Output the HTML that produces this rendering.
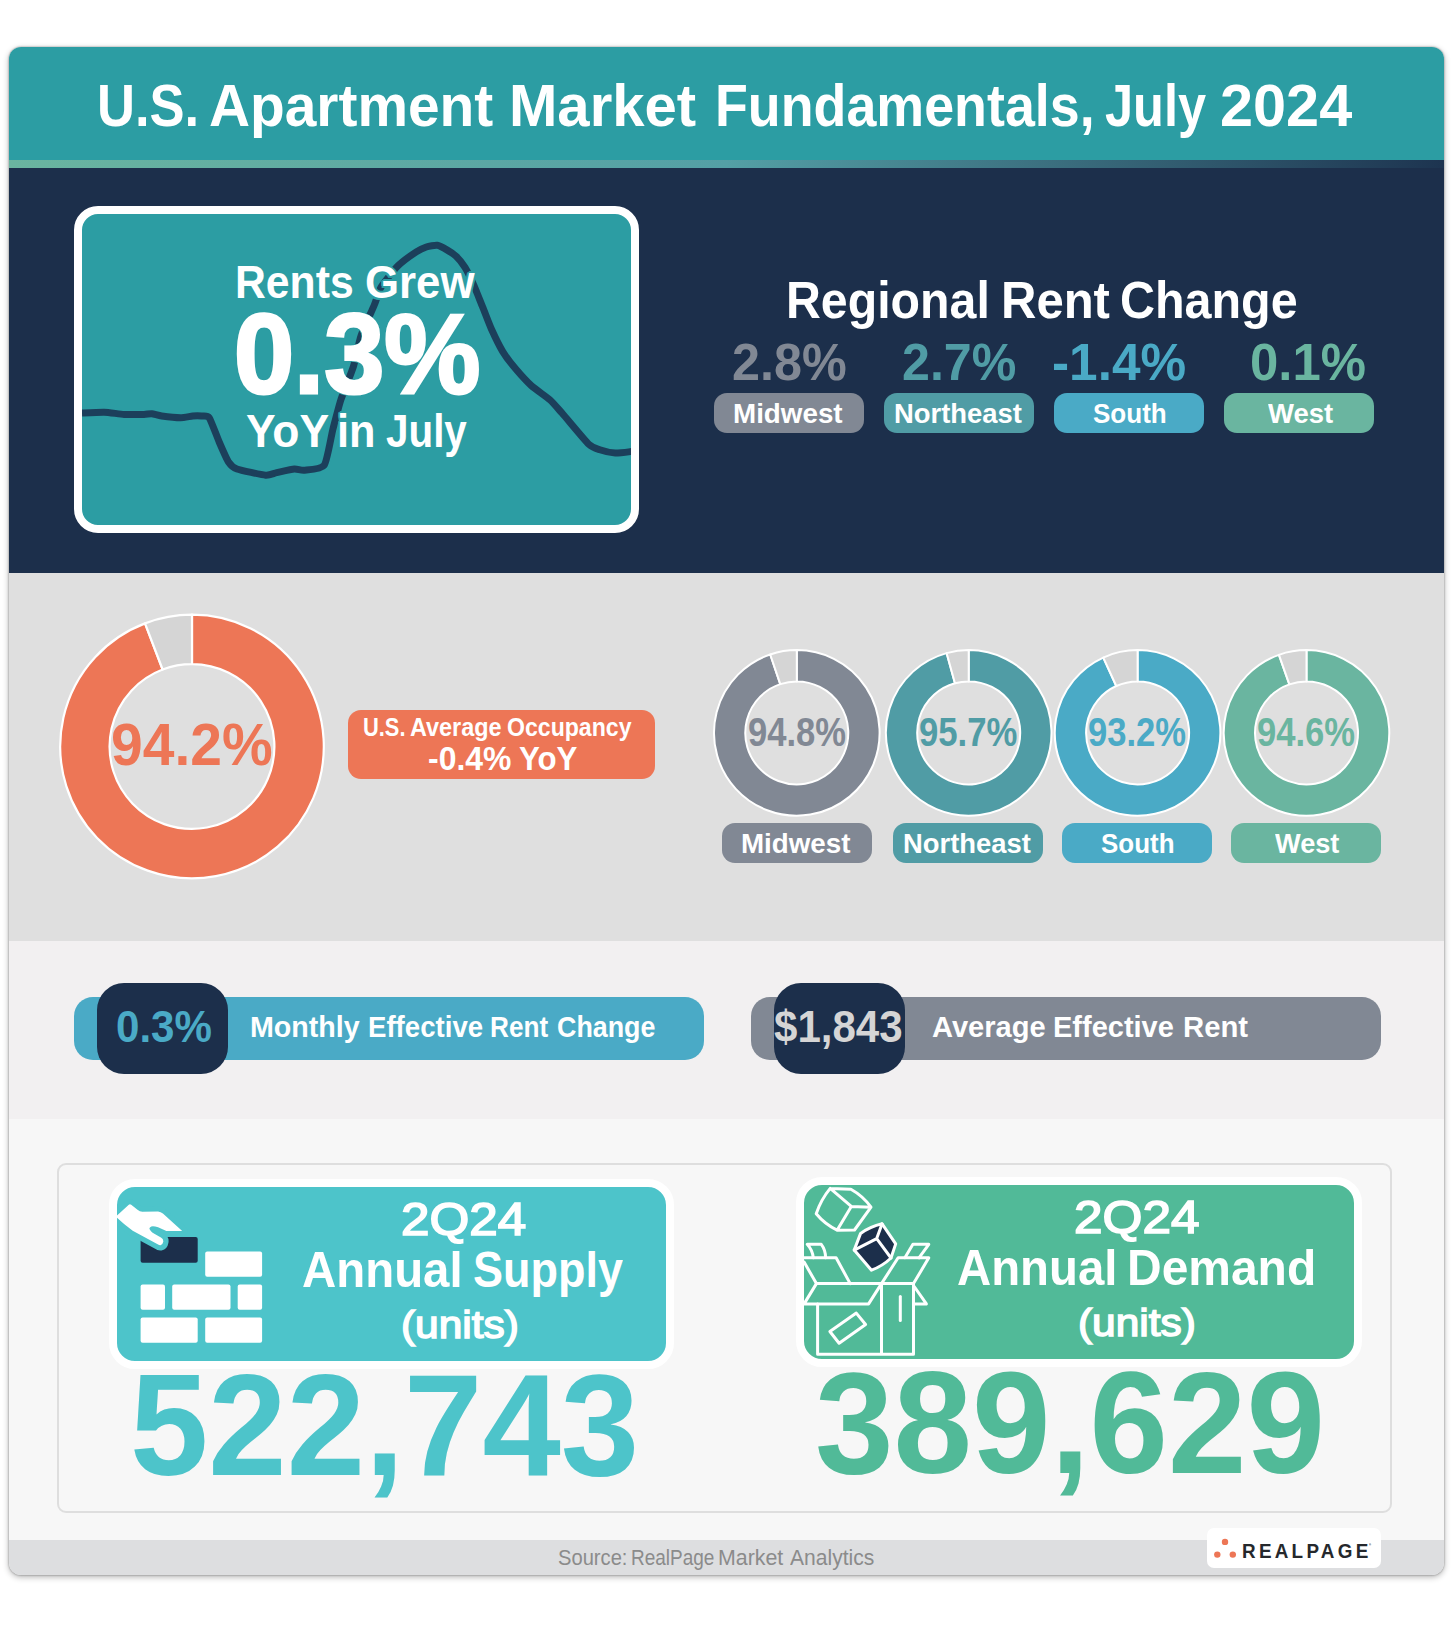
<!DOCTYPE html>
<html lang="en"><head><meta charset="utf-8"><title>U.S. Apartment Market Fundamentals, July 2024</title>
<style>
html,body{margin:0;padding:0;background:#fff}
body{width:1455px;height:1628px;position:relative;overflow:hidden;font-family:"Liberation Sans", Arial, sans-serif;font-weight:700}
.abs,.t,.pill{position:absolute}
.t{line-height:1;white-space:pre;transform-origin:0 0;margin:0;padding:0;letter-spacing:0}
.card{position:absolute;left:9px;top:47px;width:1435px;height:1528px;border-radius:12px;overflow:hidden;background:#f7f7f7;box-shadow:0 0 2px rgba(0,0,0,.45),0 2px 6px rgba(0,0,0,.3)}
.g{margin:0;padding:0;height:0;font:inherit}
.pill{width:150px;height:40px;border-radius:13px}
svg{position:absolute;left:0;top:0;overflow:visible}
</style></head><body>
<div class="card">
  <div class="abs" style="left:0;top:0;width:1435px;height:113px;background:#2c9da3"></div>
  <div class="abs" style="left:0;top:113px;width:1435px;height:8px;background:linear-gradient(90deg,#6ab5a0 0%,#54a0a6 50%,#1d3450 100%)"></div>
  <div class="abs" style="left:0;top:121px;width:1435px;height:405px;background:#1c2f4b"></div>
  <div class="abs" style="left:0;top:526px;width:1435px;height:368px;background:#dfdfdf"></div>
  <div class="abs" style="left:0;top:894px;width:1435px;height:178px;background:#f2f0f1"></div>
  <div class="abs" style="left:0;top:1072px;width:1435px;height:421px;background:#f7f7f7"></div>
  <div class="abs" style="left:0;top:1493px;width:1435px;height:35px;background:#dddee0"></div>
</div>

<!-- header -->
<h1 class="g"><span class="t" style="left:97.16px;top:75.85px;font-size:59.6px;color:#fff;transform:scaleX(0.8816);">U.S. </span><span class="t" style="left:208.85px;top:75.85px;font-size:59.6px;color:#fff;transform:scaleX(0.9537);">Apartment </span><span class="t" style="left:508.98px;top:75.85px;font-size:59.6px;color:#fff;transform:scaleX(0.9743);">Market </span><span class="t" style="left:714.59px;top:75.85px;font-size:59.6px;color:#fff;transform:scaleX(0.9027);">Fundamentals, </span><span class="t" style="left:1104.60px;top:75.85px;font-size:59.6px;color:#fff;transform:scaleX(0.8472);">July </span><span class="t" style="left:1220.21px;top:75.85px;font-size:59.6px;color:#fff;transform:scaleX(0.9975);">2024</span></h1>

<!-- rents grew box -->
<div class="abs" style="left:74px;top:206px;width:549px;height:311px;border:8px solid #fff;border-radius:24px;background:#2c9da3;overflow:hidden">
  <svg width="549" height="311" viewBox="82 214 549 311"><path d="M82.0 413.0C84.2 412.9 100.0 412.1 104.2 412.2C108.4 412.3 120.1 414.2 124.1 414.4C128.1 414.6 141.2 414.5 144.0 414.4C146.8 414.3 150.0 413.5 151.8 413.7C153.6 413.9 158.8 415.6 161.7 416.0C164.6 416.4 177.4 417.7 180.5 417.7C183.6 417.7 190.6 416.2 192.7 416.0C194.8 415.8 199.8 415.8 201.5 416.0C203.2 416.2 207.4 415.1 209.2 417.7C211.0 420.3 217.3 437.6 219.2 442.0C221.1 446.4 226.7 459.3 228.5 462.0C230.3 464.7 233.2 467.7 236.9 469.0C240.6 470.3 261.6 474.8 265.6 475.2C269.6 475.6 273.8 473.2 276.7 472.6C279.6 472.0 291.6 469.2 294.4 469.0C297.2 468.8 301.3 470.7 304.3 470.3C307.3 469.9 321.3 469.4 324.2 465.3C327.1 461.2 331.3 435.3 333.0 428.8C334.7 422.3 338.8 406.2 340.8 400.0C342.8 393.8 351.3 373.3 353.3 366.9C355.3 360.5 358.9 342.1 361.0 335.9C363.1 329.7 372.3 309.9 374.3 305.0C376.3 300.1 378.7 291.2 381.0 287.3C383.3 283.4 394.0 269.8 397.5 266.3C401.0 262.8 413.4 253.8 416.3 251.9C419.2 250.0 424.2 247.7 426.3 247.0C428.4 246.3 435.2 245.0 437.3 245.3C439.4 245.6 445.4 249.0 447.3 250.1C449.2 251.2 454.3 254.6 456.1 256.3C457.9 258.0 463.2 264.5 465.0 267.4C466.8 270.3 472.0 281.1 473.8 285.1C475.6 289.1 480.9 302.8 482.7 307.2C484.5 311.6 489.5 324.9 491.5 329.3C493.5 333.7 500.2 347.4 502.6 351.4C505.0 355.4 512.9 365.7 515.8 369.1C518.7 372.5 527.9 382.6 531.3 385.7C534.7 388.8 547.0 397.2 550.1 400.0C553.2 402.8 558.3 408.9 562.2 413.3C566.1 417.7 585.0 440.7 588.8 444.3C592.6 447.9 597.1 448.9 599.8 449.8C602.4 450.7 612.1 452.9 615.3 453.1C618.5 453.3 630.3 451.6 632.0 451.4" fill="none" stroke="#1c3f5b" stroke-width="7" stroke-linejoin="round" stroke-linecap="butt"/></svg>
</div>
<p class="g"><span class="t" style="left:235.47px;top:260.15px;font-size:45.3px;color:#fff;transform:scaleX(0.9428);text-shadow:2px 0px 0 #2c9da3,-2px 0px 0 #2c9da3,0px 2px 0 #2c9da3,0px -2px 0 #2c9da3,1.5px 1.5px 0 #2c9da3,-1.5px 1.5px 0 #2c9da3,1.5px -1.5px 0 #2c9da3,-1.5px -1.5px 0 #2c9da3;">Rents </span><span class="t" style="left:364.73px;top:260.15px;font-size:45.3px;color:#fff;transform:scaleX(0.9668);text-shadow:2px 0px 0 #2c9da3,-2px 0px 0 #2c9da3,0px 2px 0 #2c9da3,0px -2px 0 #2c9da3,1.5px 1.5px 0 #2c9da3,-1.5px 1.5px 0 #2c9da3,1.5px -1.5px 0 #2c9da3,-1.5px -1.5px 0 #2c9da3;">Grew</span></p>
<span class="t" style="left:233.60px;top:298.35px;font-size:112.4px;color:#fff;transform:scaleX(0.9618);-webkit-text-stroke:3px #fff;text-shadow:2px 0px 0 #2c9da3,-2px 0px 0 #2c9da3,0px 2px 0 #2c9da3,0px -2px 0 #2c9da3,1.5px 1.5px 0 #2c9da3,-1.5px 1.5px 0 #2c9da3,1.5px -1.5px 0 #2c9da3,-1.5px -1.5px 0 #2c9da3;">0.3%</span>
<p class="g"><span class="t" style="left:246.30px;top:407.11px;font-size:47px;color:#fff;transform:scaleX(0.9455);text-shadow:2px 0px 0 #2c9da3,-2px 0px 0 #2c9da3,0px 2px 0 #2c9da3,0px -2px 0 #2c9da3,1.5px 1.5px 0 #2c9da3,-1.5px 1.5px 0 #2c9da3,1.5px -1.5px 0 #2c9da3,-1.5px -1.5px 0 #2c9da3;">YoY </span><span class="t" style="left:336.64px;top:407.11px;font-size:47px;color:#fff;transform:scaleX(0.9207);text-shadow:2px 0px 0 #2c9da3,-2px 0px 0 #2c9da3,0px 2px 0 #2c9da3,0px -2px 0 #2c9da3,1.5px 1.5px 0 #2c9da3,-1.5px 1.5px 0 #2c9da3,1.5px -1.5px 0 #2c9da3,-1.5px -1.5px 0 #2c9da3;">in </span><span class="t" style="left:385.70px;top:407.11px;font-size:47px;color:#fff;transform:scaleX(0.8594);text-shadow:2px 0px 0 #2c9da3,-2px 0px 0 #2c9da3,0px 2px 0 #2c9da3,0px -2px 0 #2c9da3,1.5px 1.5px 0 #2c9da3,-1.5px 1.5px 0 #2c9da3,1.5px -1.5px 0 #2c9da3,-1.5px -1.5px 0 #2c9da3;">July</span></p>

<!-- regional rent change -->
<div class="pill" style="left:714px;top:393px;background:#818894"></div><div class="pill" style="left:884px;top:393px;background:#509ca5"></div><div class="pill" style="left:1054px;top:393px;background:#4aaac6"></div><div class="pill" style="left:1224px;top:393px;background:#6ab5a0"></div>
<h2 class="g"><span class="t" style="left:786.33px;top:273.83px;font-size:52.3px;color:#fff;transform:scaleX(0.9230);">Regional </span><span class="t" style="left:1001.19px;top:273.83px;font-size:52.3px;color:#fff;transform:scaleX(0.9371);">Rent </span><span class="t" style="left:1119.85px;top:273.83px;font-size:52.3px;color:#fff;transform:scaleX(0.9264);">Change</span></h2>
<span class="t" style="left:731.73px;top:336.64px;font-size:51.7px;color:#818894;transform:scaleX(0.9737);">2.8%</span>
<span class="t" style="left:901.93px;top:336.64px;font-size:51.7px;color:#509ca5;transform:scaleX(0.9711);">2.7%</span>
<span class="t" style="left:1052.31px;top:336.64px;font-size:51.7px;color:#4aaac6;transform:scaleX(0.9934);">-1.4%</span>
<span class="t" style="left:1249.53px;top:336.64px;font-size:51.7px;color:#6ab5a0;transform:scaleX(0.9847);">0.1%</span>
<span class="t" style="left:732.93px;top:398.67px;font-size:28.5px;color:#fff;transform:scaleX(0.9747);">Midwest</span>
<span class="t" style="left:894.44px;top:398.67px;font-size:28.5px;color:#fff;transform:scaleX(0.9620);">Northeast</span>
<span class="t" style="left:1093.20px;top:398.67px;font-size:28.5px;color:#fff;transform:scaleX(0.9140);">South</span>
<span class="t" style="left:1267.60px;top:398.67px;font-size:28.5px;color:#fff;transform:scaleX(0.9635);">West</span>

<!-- occupancy -->
<span class="t" style="left:110.68px;top:714.70px;font-size:59.3px;color:#ed7656;transform:scaleX(0.9613);">94.2%</span>
<span class="t" style="left:748.14px;top:712.59px;font-size:40.3px;color:#818894;transform:scaleX(0.8583);">94.8%</span>
<span class="t" style="left:919.14px;top:712.59px;font-size:40.3px;color:#509ca5;transform:scaleX(0.8610);">95.7%</span>
<span class="t" style="left:1088.14px;top:712.59px;font-size:40.3px;color:#4aaac6;transform:scaleX(0.8583);">93.2%</span>
<span class="t" style="left:1257.44px;top:712.59px;font-size:40.3px;color:#6ab5a0;transform:scaleX(0.8583);">94.6%</span>
<svg width="1455" height="1628" viewBox="0 0 1455 1628"><path d="M192.00 614.70A131.8 131.8 0 1 1 145.02 623.36L162.63 669.51A82.4 82.4 0 1 0 192.00 664.10Z" fill="#ed7656" stroke="#fff" stroke-width="2.2" stroke-linejoin="round"/><path d="M145.02 623.36A131.8 131.8 0 0 1 192.00 614.70L192.00 664.10A82.4 82.4 0 0 0 162.63 669.51Z" fill="#d5d5d5" stroke="#fff" stroke-width="2.2" stroke-linejoin="round"/><path d="M796.80 650.10A82.8 82.8 0 1 1 770.23 654.48L780.27 684.12A51.5 51.5 0 1 0 796.80 681.40Z" fill="#818894" stroke="#fff" stroke-width="2" stroke-linejoin="round"/><path d="M770.23 654.48A82.8 82.8 0 0 1 796.80 650.10L796.80 681.40A51.5 51.5 0 0 0 780.27 684.12Z" fill="#d5d5d5" stroke="#fff" stroke-width="2" stroke-linejoin="round"/><path d="M968.70 650.10A82.8 82.8 0 1 1 946.60 653.10L954.95 683.27A51.5 51.5 0 1 0 968.70 681.40Z" fill="#509ca5" stroke="#fff" stroke-width="2" stroke-linejoin="round"/><path d="M946.60 653.10A82.8 82.8 0 0 1 968.70 650.10L968.70 681.40A51.5 51.5 0 0 0 954.95 683.27Z" fill="#d5d5d5" stroke="#fff" stroke-width="2" stroke-linejoin="round"/><path d="M1137.60 650.10A82.8 82.8 0 1 1 1103.29 657.54L1116.26 686.03A51.5 51.5 0 1 0 1137.60 681.40Z" fill="#4aaac6" stroke="#fff" stroke-width="2" stroke-linejoin="round"/><path d="M1103.29 657.54A82.8 82.8 0 0 1 1137.60 650.10L1137.60 681.40A51.5 51.5 0 0 0 1116.26 686.03Z" fill="#d5d5d5" stroke="#fff" stroke-width="2" stroke-linejoin="round"/><path d="M1306.50 650.10A82.8 82.8 0 1 1 1278.94 654.82L1289.36 684.34A51.5 51.5 0 1 0 1306.50 681.40Z" fill="#6ab5a0" stroke="#fff" stroke-width="2" stroke-linejoin="round"/><path d="M1278.94 654.82A82.8 82.8 0 0 1 1306.50 650.10L1306.50 681.40A51.5 51.5 0 0 0 1289.36 684.34Z" fill="#d5d5d5" stroke="#fff" stroke-width="2" stroke-linejoin="round"/></svg>
<div class="abs" style="left:348px;top:710px;width:307px;height:69px;border-radius:13px;background:#ed7656"></div>
<div class="pill" style="left:722px;top:823px;background:#818894"></div><div class="pill" style="left:893px;top:823px;background:#509ca5"></div><div class="pill" style="left:1062px;top:823px;background:#4aaac6"></div><div class="pill" style="left:1231px;top:823px;background:#6ab5a0"></div>
<p class="g"><span class="t" style="left:362.52px;top:714.72px;font-size:24.9px;color:#fff;transform:scaleX(0.8776);">U.S. </span><span class="t" style="left:410.40px;top:714.72px;font-size:24.9px;color:#fff;transform:scaleX(0.9412);">Average </span><span class="t" style="left:507.17px;top:714.72px;font-size:24.9px;color:#fff;transform:scaleX(0.9277);">Occupancy</span></p>
<p class="g"><span class="t" style="left:427.55px;top:742.36px;font-size:33.6px;color:#fff;transform:scaleX(0.9504);">-0.4% </span><span class="t" style="left:519.30px;top:742.36px;font-size:33.6px;color:#fff;transform:scaleX(0.9309);">YoY</span></p>
<span class="t" style="left:741.03px;top:828.57px;font-size:28.5px;color:#fff;transform:scaleX(0.9738);">Midwest</span>
<span class="t" style="left:903.14px;top:828.57px;font-size:28.5px;color:#fff;transform:scaleX(0.9613);">Northeast</span>
<span class="t" style="left:1101.40px;top:828.57px;font-size:28.5px;color:#fff;transform:scaleX(0.9103);">South</span>
<span class="t" style="left:1275.00px;top:828.57px;font-size:28.5px;color:#fff;transform:scaleX(0.9532);">West</span>

<!-- rent pills -->
<div class="abs" style="left:74px;top:997px;width:630px;height:63px;border-radius:19px;background:#4aaac6"></div>
<div class="abs" style="left:97px;top:983px;width:131px;height:91px;border-radius:27px;background:#1c2f4b"></div>
<div class="abs" style="left:751px;top:997px;width:630px;height:63px;border-radius:19px;background:#818894"></div>
<div class="abs" style="left:774px;top:983px;width:131px;height:91px;border-radius:27px;background:#1c2f4b"></div>
<span class="t" style="left:115.95px;top:1005.43px;font-size:44.5px;color:#4aaac6;transform:scaleX(0.9463);">0.3%</span>
<p class="g"><span class="t" style="left:249.90px;top:1013.31px;font-size:28.7px;color:#fff;transform:scaleX(0.9982);">Monthly </span><span class="t" style="left:368.14px;top:1013.31px;font-size:28.7px;color:#fff;transform:scaleX(0.9624);">Effective </span><span class="t" style="left:490.29px;top:1013.31px;font-size:28.7px;color:#fff;transform:scaleX(0.9115);">Rent </span><span class="t" style="left:556.76px;top:1013.31px;font-size:28.7px;color:#fff;transform:scaleX(0.9357);">Change</span></p>
<span class="t" style="left:773.90px;top:1005.43px;font-size:44.5px;color:#d5d5d5;transform:scaleX(0.9449);">$1,843</span>
<p class="g"><span class="t" style="left:931.80px;top:1013.31px;font-size:28.7px;color:#fff;transform:scaleX(1.0135);">Average </span><span class="t" style="left:1053.49px;top:1013.31px;font-size:28.7px;color:#fff;transform:scaleX(1.0108);">Effective </span><span class="t" style="left:1183.38px;top:1013.31px;font-size:28.7px;color:#fff;transform:scaleX(1.0206);">Rent</span></p>

<!-- supply / demand -->
<div class="abs" style="left:57px;top:1163px;width:1335px;height:350px;border:2px solid #dedede;border-radius:9px;box-sizing:border-box"></div>
<div class="abs" style="left:109px;top:1179px;width:549px;height:174px;border:8px solid #fff;border-radius:26px;background:#4dc4ca"></div>
<div class="abs" style="left:796px;top:1177px;width:550px;height:174px;border:8px solid #fff;border-radius:26px;background:#51ba98"></div>
<svg width="1455" height="1628" viewBox="0 0 1455 1628">
  <!-- bricks -->
  <g fill="#fff">
    <rect x="205.2" y="1251.4" width="56.9" height="25.4" rx="2"/>
    <rect x="140.6" y="1284.4" width="24.4" height="25.4" rx="2"/>
    <rect x="172.2" y="1284.4" width="58.3" height="25.4" rx="2"/>
    <rect x="237.7" y="1284.4" width="24.4" height="25.4" rx="2"/>
    <rect x="140.6" y="1317.4" width="57.1" height="25.4" rx="2"/>
    <rect x="205.2" y="1317.4" width="56.9" height="25.4" rx="2"/>
  </g>
  <rect x="140.6" y="1237" width="57.1" height="25.8" rx="2" fill="#1c2f4b"/>
  <clipPath id="cs"><rect x="117" y="1187" width="549" height="174"/></clipPath>
  <path clip-path="url(#cs)" d="M116.9 1215.6L128.8 1204.8Q129.9 1203.7 131.2 1204.8L137.5 1209.8Q139.8 1211.6 142.3 1211.8L158.1 1211.5Q160.8 1211.8 162.9 1213.6L182.2 1230.9L166.4 1230.9L158.1 1227.3Q153.5 1225.6 151.3 1226.4Q148.6 1227.6 149.8 1229.5Q150.8 1231.6 152.6 1232.8L160.9 1237.6Q163.6 1239.2 163.3 1241.6Q162.8 1244.8 160.5 1245.3Q159.2 1245.4 158.1 1244.5L132.7 1230.7Q124 1224.5 116.9 1217.7Z" fill="#fff" stroke="#4dc4ca" stroke-width="10.5" stroke-linejoin="round" paint-order="stroke"/>
  <!-- boxes -->
  <g fill="none" stroke="#fff" stroke-width="3" stroke-linejoin="round" stroke-linecap="round">
    <path d="M830.2 1188.4L850.9 1189.3Q863.0 1196.0 871.0 1207.2L854.5 1230.0L837.1 1230.2Q824.7 1224.1 816.2 1213.8Q820.9 1199.7 830.2 1188.4ZM830.2 1188.4L851.3 1206.4L871.0 1207.2M851.3 1206.4L837.1 1230.2"/>
    <path d="M882.1 1223.8L895.7 1243.9L891 1258Q882.6 1266 871.5 1270.2L854.2 1250.1L860.6 1233.4Q870.3 1226.6 882.1 1223.8Z" fill="#1c2f4b"/>
    <path d="M882.1 1223.8L876.7 1238.6L854.2 1250.1M876.7 1238.6L891 1258"/>
    <path d="M817.6 1303.9V1354.3H913.5V1283.6M881.5 1283.6V1354.3M816.4 1283.6H913.5"/>
    <path d="M816.4 1283.6L804.1 1303.9H868.6L881.5 1283.6"/>
    <path d="M804.1 1262L816.4 1283.6M804.1 1257.8H836.1L850.2 1283.6"/>
    <path d="M807.2 1244.3H821.3Q825.6 1250 825.6 1257.8M807.2 1244.3Q812.5 1250 813.3 1257.8"/>
    <path d="M881.5 1283.6L898.1 1257.8H928.8L913.5 1283.6"/>
    <path d="M904.9 1257.8L912.9 1244.3H928.8L919 1257.8"/>
    <path d="M913.5 1285.5L926.4 1303.9H913.5"/>
    <path d="M900.3 1296.5V1320.5"/>
    <path d="M829.9 1331.5L856.3 1313.1L865.6 1324.5L839.1 1343.2Z"/>
  </g>
</svg>
<span class="t" style="left:400.65px;top:1194.61px;font-size:47.0px;color:#fff;transform:scaleX(1.0886);font-weight:400;-webkit-text-stroke:1.7px #fff;">2Q24</span>
<p class="g"><span class="t" style="left:302.46px;top:1245.14px;font-size:50.4px;color:#fff;transform:scaleX(0.9409);">Annual </span><span class="t" style="left:473.11px;top:1245.14px;font-size:50.4px;color:#fff;transform:scaleX(0.8925);">Supply</span></p>
<span class="t" style="left:401.16px;top:1304.56px;font-size:39.5px;color:#fff;transform:scaleX(1.0729);font-weight:400;-webkit-text-stroke:1.5px #fff;">(units)</span>
<span class="t" style="left:130.31px;top:1353.13px;font-size:144.8px;color:#4dc4ca;transform:scaleX(0.9727);">522,743</span>
<span class="t" style="left:1073.65px;top:1192.61px;font-size:47.0px;color:#fff;transform:scaleX(1.0913);font-weight:400;-webkit-text-stroke:1.7px #fff;">2Q24</span>
<p class="g"><span class="t" style="left:956.96px;top:1243.04px;font-size:50.4px;color:#fff;transform:scaleX(0.9397);">Annual </span><span class="t" style="left:1127.34px;top:1243.04px;font-size:50.4px;color:#fff;transform:scaleX(0.9517);">Demand</span></p>
<span class="t" style="left:1078.26px;top:1302.96px;font-size:39.5px;color:#fff;transform:scaleX(1.0729);font-weight:400;-webkit-text-stroke:1.5px #fff;">(units)</span>
<span class="t" style="left:814.98px;top:1350.83px;font-size:144.8px;color:#51ba98;transform:scaleX(0.9743);">389,629</span>

<!-- footer -->
<div class="abs" style="left:1207px;top:1528px;width:174px;height:40px;border-radius:7px;background:#fff"></div>
<svg width="1455" height="1628" viewBox="0 0 1455 1628"><g fill="#ed7656"><circle cx="1225" cy="1541.9" r="3.2"/><circle cx="1217.3" cy="1554.6" r="3.2"/><circle cx="1232.8" cy="1554.6" r="3.2"/></g></svg>
<p class="g"><span class="t" style="left:557.80px;top:1547.78px;font-size:21.4px;color:#8b8b8b;transform:scaleX(0.9418);font-weight:400;">Source: </span><span class="t" style="left:630.61px;top:1547.78px;font-size:21.4px;color:#8b8b8b;transform:scaleX(0.8875);font-weight:400;">RealPage </span><span class="t" style="left:718.40px;top:1547.78px;font-size:21.4px;color:#8b8b8b;transform:scaleX(0.9980);font-weight:400;">Market </span><span class="t" style="left:789.90px;top:1547.78px;font-size:21.4px;color:#8b8b8b;transform:scaleX(0.9847);font-weight:400;">Analytics</span></p>
<span class="t" style="left:1241.87px;top:1540.72px;font-size:20.3px;color:#25282c;transform:scaleX(0.9300);letter-spacing:3.51px;">REALPAGE</span>
<span class="t" style="left:1369.20px;top:1542.94px;font-size:4.2px;color:#25282c;transform:scaleX(0.6500);">®</span>
</body></html>
